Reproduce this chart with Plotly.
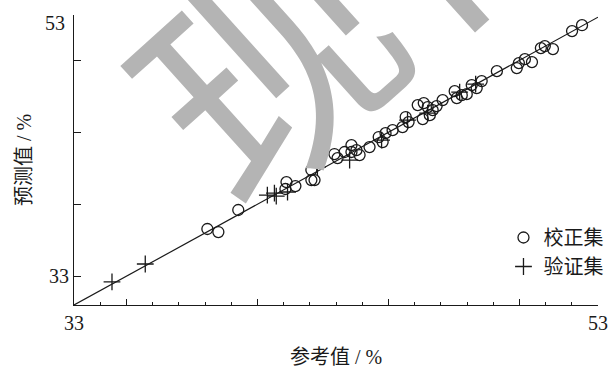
import plotly.graph_objects as go

# Calibration set (校正集): reference vs predicted
cal_ref = [38.09, 38.51, 39.27, 41.11, 41.45, 41.07, 42.06, 42.06, 42.18, 42.94,
           43.06, 43.33, 43.59, 43.59, 43.78, 43.90, 44.28, 44.63, 44.78, 44.89,
           45.16, 45.54, 45.66, 45.77, 46.12, 46.35, 46.31, 46.58, 46.69, 46.84,
           47.07, 47.53, 47.61, 47.80, 47.99, 48.18, 48.37, 48.56, 49.14, 49.90,
           49.98, 50.21, 50.48, 50.82, 50.97, 51.28, 52.01, 52.39, 46.50]
cal_pred = [38.28, 38.07, 39.60, 41.54, 41.26, 41.06, 42.38, 41.68, 41.68, 43.49,
            43.21, 43.63, 44.11, 43.63, 43.76, 43.42, 43.97, 44.67, 44.32, 44.94,
            45.15, 45.36, 46.06, 45.71, 46.89, 47.03, 45.92, 46.19, 46.54, 46.82,
            47.24, 47.86, 47.38, 47.58, 47.65, 48.28, 48.07, 48.56, 49.25, 49.46,
            49.81, 50.08, 49.88, 50.85, 50.99, 50.78, 52.03, 52.44, 46.75]

# Validation set (验证集)
val_ref = [34.45, 35.72, 40.38, 40.65, 40.72, 41.15, 42.29, 43.52, 44.74, 45.73,
           46.50, 47.72, 48.33]
val_pred = [34.60, 35.85, 40.64, 40.78, 40.57, 40.85, 42.58, 43.07, 44.46, 45.85,
            46.33, 47.79, 48.35]

# 1:1 line
diag = [33, 53]

x_major = [33, 35, 40, 45, 50, 53]
x_major_text = ["33", "", "", "", "", "53"]
x_minor = [v for v in range(34, 53) if v not in (35, 40, 45, 50)]
y_major = [35, 40, 45, 50]
y_major_text = ["33", "", "", ""]

FONT = "'Liberation Serif', 'Noto Sans CJK SC', serif"
INK = "#1a1a1a"

fig = go.Figure()
fig.add_trace(go.Scatter(x=diag, y=diag, mode="lines",
                         line=dict(color=INK, width=1.2),
                         showlegend=False, hoverinfo="skip"))
fig.add_trace(go.Scatter(x=cal_ref, y=cal_pred, mode="markers", name="校正集",
                         marker=dict(symbol="circle-open", size=11, color=INK,
                                     line=dict(width=1.3, color=INK))))
fig.add_trace(go.Scatter(x=val_ref, y=val_pred, mode="markers", name="验证集",
                         marker=dict(symbol="cross-thin-open", size=12, color=INK,
                                     line=dict(width=1.3, color=INK))))

fig.update_layout(
    width=608, height=368,
    margin=dict(l=74, r=10, t=15, b=63, autoexpand=False),
    paper_bgcolor="white", plot_bgcolor="white",
    font=dict(family=FONT, size=20, color=INK),
    legend=dict(x=1.02, xanchor="right", y=0.30, yanchor="top",
                bgcolor="rgba(0,0,0,0)", font=dict(size=20),
                tracegroupgap=0, itemwidth=30),
    annotations=[
        dict(text="53", xref="paper", yref="y", x=0, y=52.6,
             xanchor="right", yanchor="middle", xshift=-7, showarrow=False,
             font=dict(size=20, family=FONT, color=INK)),
        dict(text="现代", xref="paper", yref="paper", x=0.531, y=1.155,
             xanchor="center", yanchor="middle",
             showarrow=False, textangle=-42,
             font=dict(size=250, family="Noto Sans CJK SC", color="#b4b4b4")),
    ],
)
fig.update_xaxes(range=[33, 53], showgrid=False, zeroline=False, automargin=False,
                 showline=True, linecolor=INK, linewidth=1.2,
                 tickmode="array", tickvals=x_major, ticktext=x_major_text,
                 ticks="inside", ticklen=6, tickwidth=1.2, tickcolor=INK,
                 minor=dict(tickmode="array", tickvals=x_minor, ticks="inside",
                            ticklen=3, tickwidth=1.2, tickcolor=INK),
                 title=dict(text="参考值 / %", standoff=20, font=dict(size=20)),
                 tickfont=dict(size=20))
fig.update_yaxes(range=[33, 53.15], showgrid=False, zeroline=False, automargin=False,
                 showline=True, linecolor=INK, linewidth=1.2,
                 tickmode="array", tickvals=y_major, ticktext=y_major_text,
                 ticks="inside", ticklen=7, tickwidth=1.2, tickcolor=INK,
                 title=dict(text="预测值 / %", standoff=11, font=dict(size=20)),
                 tickfont=dict(size=20))

fig.write_html("out.html")
